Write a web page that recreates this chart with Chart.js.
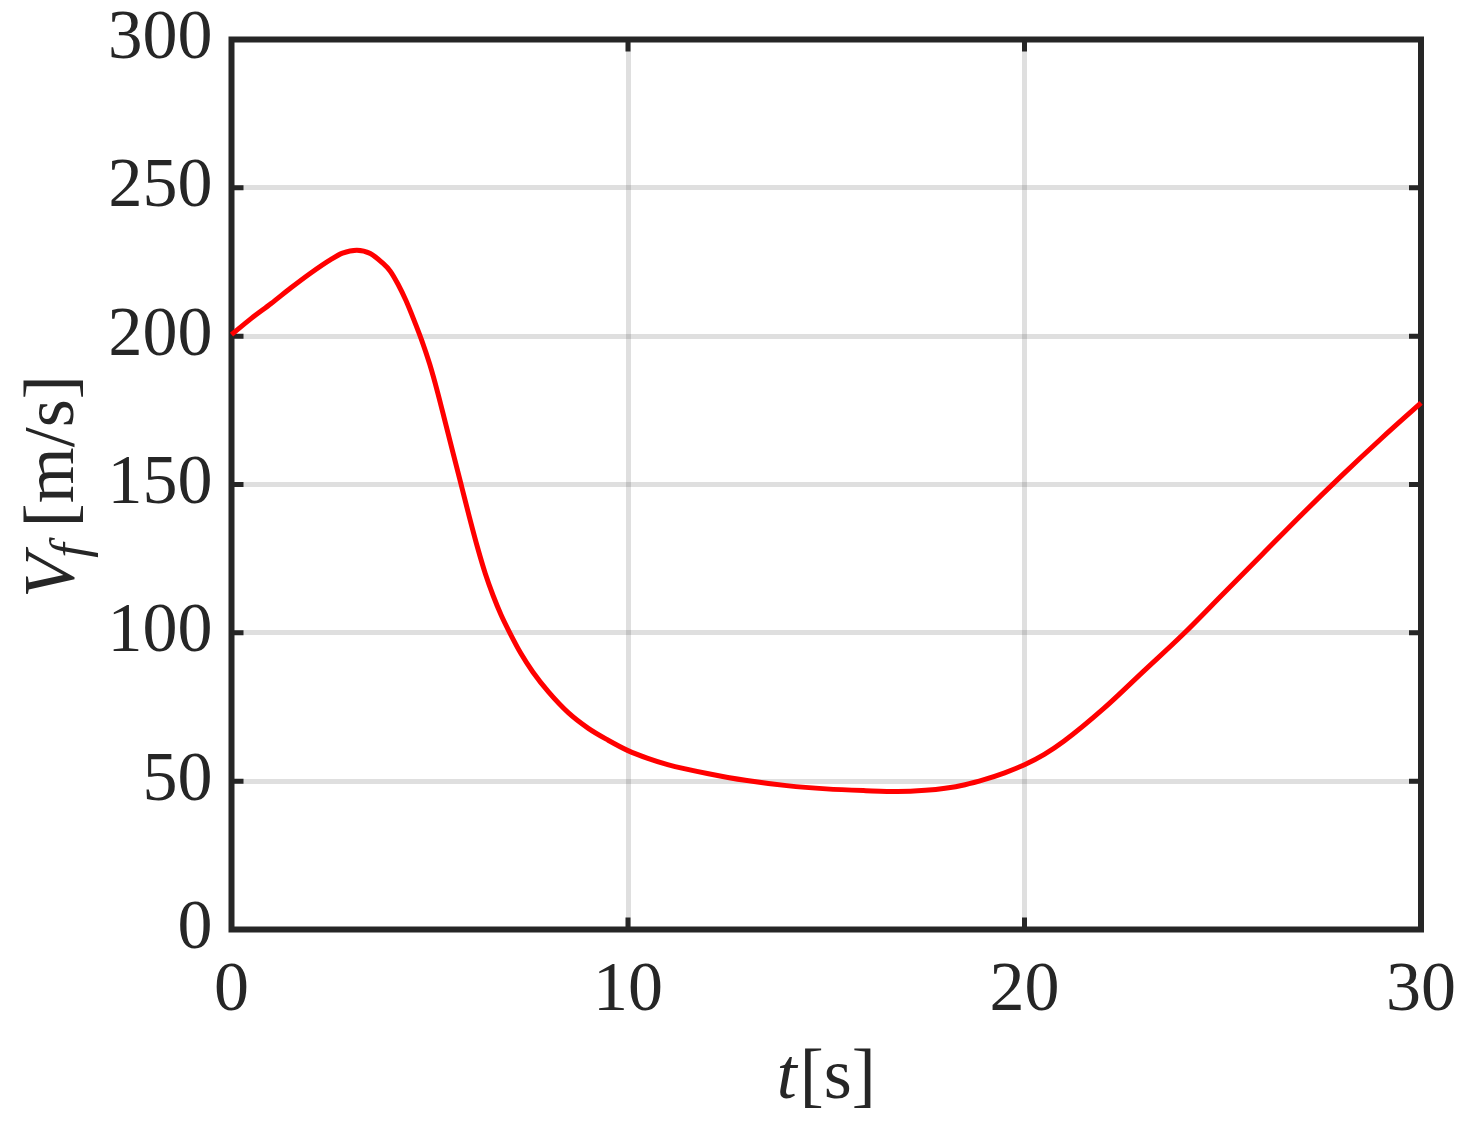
<!DOCTYPE html>
<html>
<head>
<meta charset="utf-8">
<script src="https://cdn.jsdelivr.net/npm/chart.js@4"></script>
<style>
  html, body { margin: 0; padding: 0; background: #fff; }
  #wrap { width: 1470px; height: 1130px; }
</style>
</head>
<body>
<div id="wrap"><canvas id="vfChart"></canvas></div>
<script>
// flight speed V_f [m/s] over time t [s]
const timeS = [0, 0.5, 1, 1.5, 2, 2.5, 2.8, 3.16, 3.5, 3.8, 4, 4.2, 4.4, 4.6, 4.8, 5, 5.2, 5.4, 5.6, 5.8, 6, 6.2, 6.4, 6.6, 6.8, 7, 7.3, 7.6, 8, 8.5, 9, 9.5, 10, 10.5, 11, 12, 13, 14, 15, 16, 16.8, 17.5, 18, 18.5, 19, 19.5, 20, 20.5, 21, 22, 23, 24, 25, 26, 27, 28, 29, 30];
const speedVf = [200.5, 206, 211, 216.3, 221.3, 225.8, 228, 229, 227.9, 224.8, 222, 217.5, 212, 205.5, 198.5, 190.5, 181, 170.5, 160, 149.5, 139, 129, 120, 112.5, 106, 100.5, 93, 86.8, 80, 73, 67.8, 63.8, 60.3, 57.7, 55.6, 52.6, 50.2, 48.5, 47.4, 46.8, 46.5, 46.9, 47.6, 48.8, 50.6, 52.8, 55.5, 59, 63.5, 74.5, 87, 99.5, 113, 126.5, 140, 153, 165.5, 177.5];

const xTicks = [0, 10, 20, 30];
const yTicks = [0, 50, 100, 150, 200, 250, 300];

const axisColor = "#262626";
const serif = "'Liberation Serif', 'DejaVu Serif', serif";

// MATLAB style box with inward ticks and LaTeX-like axis titles
const matlabAxes = {
  id: "matlabAxes",
  beforeDatasetsDraw(chart) {
    const { ctx, chartArea: a, scales } = chart;
    const len = 12;
    ctx.save();
    ctx.strokeStyle = axisColor;
    ctx.lineWidth = 5;
    ctx.beginPath();
    yTicks.forEach((v) => {
      const y = scales.y.getPixelForValue(v);
      ctx.moveTo(a.left, y);
      ctx.lineTo(a.left + len, y);
      ctx.moveTo(a.right, y);
      ctx.lineTo(a.right - len, y);
    });
    xTicks.forEach((v) => {
      const x = scales.x.getPixelForValue(v);
      ctx.moveTo(x, a.bottom);
      ctx.lineTo(x, a.bottom - len);
      ctx.moveTo(x, a.top);
      ctx.lineTo(x, a.top + len);
    });
    ctx.stroke();
    ctx.lineWidth = 6;
    ctx.strokeRect(a.left, a.top, a.right - a.left, a.bottom - a.top);
    ctx.restore();
  },
  afterDraw(chart) {
    const { ctx, chartArea: a } = chart;
    ctx.save();
    ctx.fillStyle = "#262626";
    ctx.textBaseline = "alphabetic";
    ctx.textAlign = "left";

    // x title: t[s]
    const fItal = "italic 72px " + serif;
    const fUp = "72px " + serif;
    ctx.font = fItal;
    const wt = ctx.measureText("t").width + 3;
    ctx.font = fUp;
    const ws = ctx.measureText("[s]").width;
    let x0 = (a.left + a.right) / 2 - (wt + ws) / 2;
    ctx.font = fItal;
    ctx.fillText("t", x0, 1098);
    ctx.font = fUp;
    ctx.fillText("[s]", x0 + wt, 1098);

    // y title: V_f [m/s], rotated
    ctx.translate(73, (a.top + a.bottom) / 2 + 2);
    ctx.rotate(-Math.PI / 2);
    ctx.font = fItal;
    const wV = ctx.measureText("V").width;
    const fSub = "italic 52px " + serif;
    ctx.font = fSub;
    const wf = ctx.measureText("f").width + 12;
    ctx.font = fUp;
    const wu = ctx.measureText("[m/s]").width;
    let p = -(wV + wf + wu) / 2;
    ctx.font = fItal;
    ctx.fillText("V", p, 0);
    ctx.font = fSub;
    ctx.fillText("f", p + wV - 4, 14);
    ctx.font = fUp;
    ctx.fillText("[m/s]", p + wV + wf, 0);
    ctx.restore();
  },
};

new Chart(document.getElementById("vfChart"), {
  type: "line",
  data: {
    datasets: [
      {
        label: "V_f",
        data: timeS.map((t, i) => ({ x: t, y: speedVf[i] })),
        borderColor: "#ff0000",
        borderWidth: 5,
        pointRadius: 0,
        fill: false,
        cubicInterpolationMode: "monotone",
        clip: false,
      },
    ],
  },
  options: {
    responsive: true,
    maintainAspectRatio: false,
    animation: false,
    layout: {
      padding: { left: 111.5, right: 49, top: 39.5, bottom: 100.5 },
    },
    scales: {
      x: {
        type: "linear",
        min: 0,
        max: 30,
        afterBuildTicks: (scale) => {
          scale.ticks = xTicks.map((v) => ({ value: v }));
        },
        afterFit: (scale) => {
          scale.height = 100;
          scale.paddingLeft = 0;
          scale.paddingRight = 0;
        },
        ticks: {
          color: "#262626",
          padding: 20,
          maxRotation: 0,
          font: { family: serif, size: 70 },
        },
        grid: {
          color: "rgba(38, 38, 38, 0.15)",
          lineWidth: 5,
          drawTicks: false,
        },
        border: { display: false },
      },
      y: {
        type: "linear",
        min: 0,
        max: 300,
        afterBuildTicks: (scale) => {
          scale.ticks = yTicks.map((v) => ({ value: v }));
        },
        afterFit: (scale) => {
          scale.width = 120;
          scale.paddingTop = 0;
          scale.paddingBottom = 0;
        },
        ticks: {
          color: "#262626",
          padding: 19,
          font: { family: serif, size: 70 },
        },
        grid: {
          color: "rgba(38, 38, 38, 0.15)",
          lineWidth: 5,
          drawTicks: false,
        },
        border: { display: false },
      },
    },
    plugins: {
      legend: { display: false },
      tooltip: { enabled: false },
    },
  },
  plugins: [matlabAxes],
});
</script>
</body>
</html>
